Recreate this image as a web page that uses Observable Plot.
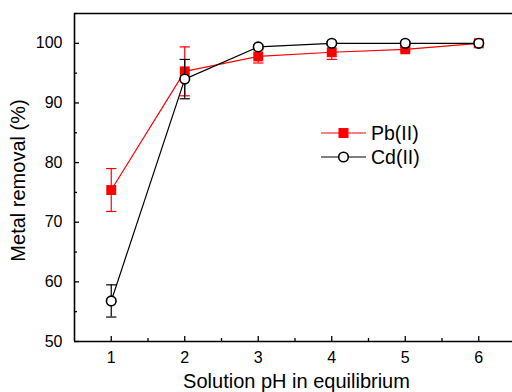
<!DOCTYPE html>
<html>
<head>
<meta charset="utf-8">
<script src="https://cdn.jsdelivr.net/npm/d3@7"></script>
<script src="https://cdn.jsdelivr.net/npm/@observablehq/plot@0.6"></script>
<style>
  html, body { margin: 0; padding: 0; background: #fff; }
  #chart { width: 512px; height: 392px; overflow: hidden; }
</style>
</head>
<body>
<div id="chart"></div>
<script>
const pH = [1, 2, 3, 4, 5, 6];
const pbRemoval = [75.4, 95.3, 97.8, 98.5, 99.0, 100];
const pbError = [3.6, 4.1, 1.1, 1.2, 0.3, 0.2];
const cdRemoval = [56.8, 94.0, 99.4, 100, 100, 100];
const cdError = [2.7, 3.3, 0.3, 0.3, 0.3, 0.2];
const seriesNames = ["Pb(II)", "Cd(II)"];
const xMajorTicks = [1, 2, 3, 4, 5, 6];
const xMinorTicks = [1.5, 2.5, 3.5, 4.5, 5.5, 6.5];
const yMajorTicks = [50, 60, 70, 80, 90, 100];
const yMinorTicks = [55, 65, 75, 85, 95, 105];
const xTitle = "Solution pH in equilibrium";
const yTitle = "Metal removal (%)";

const pb = pH.map((x, i) => ({x, y: pbRemoval[i], lo: pbRemoval[i] - pbError[i], hi: pbRemoval[i] + pbError[i]}));
const cd = pH.map((x, i) => ({x, y: cdRemoval[i], lo: cdRemoval[i] - cdError[i], hi: cdRemoval[i] + cdError[i]}));

const W = 512, H = 392, mL = 74, mT = 13, mB = 51, mR = 0;
const xDom = [0.5, 0.5 + (W - mL) / 73.5];
const yDom = [50, 105];
const frameW = W - mL - mR, frameH = H - mT - mB;

const capSymbol = {
  draw(ctx, size) {
    const w = Math.sqrt(size);
    ctx.moveTo(-w / 2, 0);
    ctx.lineTo(w / 2, 0);
  }
};

const RED = "#ff0000", BLK = "#000000";

function series(data, color, marker) {
  const withErr = data.filter(d => d.hi - d.lo > 0.5);
  const m = [
    Plot.line(data, {x: "x", y: "y", stroke: color, strokeWidth: 1.2}),
    Plot.ruleX(withErr, {x: "x", y1: "lo", y2: "hi", stroke: color, strokeWidth: 1.2}),
    Plot.dot(withErr, {x: "x", y: "hi", symbol: capSymbol, r: 5.8, stroke: color, strokeWidth: 1.2, fill: "none"}),
    Plot.dot(withErr, {x: "x", y: "lo", symbol: capSymbol, r: 5.8, stroke: color, strokeWidth: 1.2, fill: "none"})
  ];
  if (marker === "square") {
    m.push(Plot.dot(data, {x: "x", y: "y", symbol: "square", r: 5.6, fill: color, stroke: "none"}));
  } else {
    m.push(Plot.dot(data, {x: "x", y: "y", symbol: "circle", r: 4.8, fill: "white", stroke: color, strokeWidth: 1.6}));
  }
  return m;
}

const chart = Plot.plot({
  width: W, height: H,
  marginLeft: mL, marginTop: mT, marginBottom: mB, marginRight: mR,
  style: {fontFamily: "'Liberation Sans', Arial, sans-serif", fontSize: "16px", background: "white", color: "black"},
  x: {domain: xDom, axis: null},
  y: {domain: yDom, axis: null},
  marks: [
    Plot.axisX(xMajorTicks, {tickSize: 0, tickPadding: 10, fontSize: 16, label: null}),
    Plot.axisY(yMajorTicks, {tickSize: 0, tickPadding: 12, fontSize: 16, label: null}),
    Plot.ruleX(xMajorTicks, {x: d => d, insetTop: frameH - 5, stroke: BLK, strokeWidth: 1.3}),
    Plot.ruleX(xMinorTicks, {x: d => d, insetTop: frameH - 3, stroke: BLK, strokeWidth: 1.3}),
    Plot.ruleY(yMajorTicks, {y: d => d, insetRight: frameW - 5, stroke: BLK, strokeWidth: 1.3}),
    Plot.ruleY(yMinorTicks, {y: d => d, insetRight: frameW - 3, stroke: BLK, strokeWidth: 1.3}),
    ...series(pb, RED, "square"),
    ...series(cd, BLK, "circle"),
    Plot.ruleY([yDom[1]], {stroke: BLK, strokeWidth: 1.6}),
    Plot.ruleY([yDom[0]], {stroke: BLK, strokeWidth: 1.6}),
    Plot.ruleX([xDom[0]], {stroke: BLK, strokeWidth: 1.6}),
    Plot.text([xTitle], {text: d => d, frameAnchor: "bottom", textAnchor: "middle", dy: 46, dx: 3, fontSize: 20, fill: BLK}),
    Plot.text([yTitle], {text: d => d, frameAnchor: "left", textAnchor: "middle", rotate: -90, dx: -56, dy: 3, fontSize: 20, fill: BLK})
  ]
});

// Legend drawn into the same SVG
const svg = d3.select(chart);
const legend = svg.append("g")
  .attr("font-family", "'Liberation Sans', Arial, sans-serif")
  .attr("font-size", 19.5)
  .attr("text-anchor", "start");
const legendItems = [
  {name: seriesNames[0], color: RED, marker: "square", y: 133},
  {name: seriesNames[1], color: BLK, marker: "circle", y: 157}
];
for (const it of legendItems) {
  legend.append("line").attr("x1", 321).attr("x2", 366).attr("y1", it.y).attr("y2", it.y)
    .attr("stroke", it.color).attr("stroke-width", 1.2);
  if (it.marker === "square") {
    legend.append("rect").attr("x", 338.5).attr("y", it.y - 5).attr("width", 10).attr("height", 10).attr("fill", it.color);
  } else {
    legend.append("circle").attr("cx", 343.5).attr("cy", it.y).attr("r", 4.8)
      .attr("fill", "white").attr("stroke", it.color).attr("stroke-width", 1.6);
  }
  legend.append("text").attr("x", 371).attr("y", it.y).attr("dy", "0.35em")
    .attr("text-anchor", "start").attr("fill", "black").text(it.name);
}

document.getElementById("chart").appendChild(chart);
</script>
</body>
</html>
